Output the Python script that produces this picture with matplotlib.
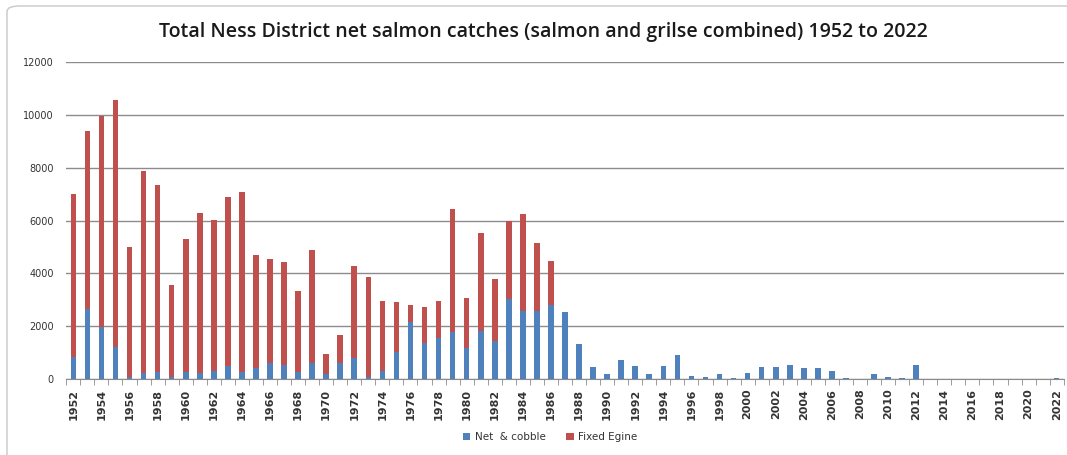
import numpy as np
import matplotlib.pyplot as plt
from matplotlib.patches import FancyBboxPatch

years = list(range(1952, 2023))

# total catch per season (net & cobble + fixed engine)
totals = [7020, 9400, 9970, 10570, 4980, 7880, 7360, 3550, 5290, 6290,
          6010, 6880, 7070, 4700, 4560, 4440, 3340, 4890, 930, 1660,
          4270, 3870, 2950, 2900, 2820, 2710, 2970, 6420, 3050, 5520,
          3780, 5970, 6240, 5150, 4450, 2520, 1320, 440, 190, 710,
          480, 190, 480, 890, 115, 90, 180, 40, 240, 445,
          445, 520, 435, 435, 305, 50, 10, 190, 75, 40,
          540, 0, 0, 0, 0, 0, 0, 0, 0, 0,
          40]

net_cobble = [820, 2660, 1980, 1200, 80, 240, 280, 60, 250, 240,
              290, 480, 280, 430, 590, 530, 265, 590, 190, 590,
              780, 60, 315, 1010, 2170, 1370, 1550, 1780, 1160, 1810,
              1450, 3010, 2580, 2580, 2820, 2520, 1320, 440, 190, 710,
              480, 190, 480, 890, 115, 90, 180, 40, 240, 445,
              445, 520, 435, 435, 305, 50, 10, 190, 75, 40,
              540, 0, 0, 0, 0, 0, 0, 0, 0, 0,
              40]

fixed_engine = [t - n for t, n in zip(totals, net_cobble)]

blue = '#4F81BD'
red = '#C0504D'

fig = plt.figure(figsize=(10.67, 4.55), dpi=100)
fig.patch.set_facecolor('white')

# chart frame
frame = FancyBboxPatch((7 / 1067, -0.05), 1.2, 1 - 6 / 455 + 0.05,
                       boxstyle='round,pad=0,rounding_size=0.012',
                       transform=fig.transFigure, fill=False,
                       edgecolor='#c8c8c8', linewidth=1.0, clip_on=False)
fig.patches.append(frame)

ax = fig.add_axes([66.3 / 1067, 1 - 379 / 455, (1063.7 - 66.3) / 1067, (379 - 62) / 455])

x = np.arange(len(years))
ax.bar(x, net_cobble, width=0.4, color=blue, label='Net  & cobble', zorder=3)
ax.bar(x, fixed_engine, width=0.4, bottom=net_cobble, color=red,
       label='Fixed Egine', zorder=3)

ax.set_xlim(-0.5, len(years) - 0.5)
ax.set_ylim(0, 12000)
ax.set_yticks(range(0, 12001, 2000))
ax.yaxis.grid(True, color='#8c8c8c', linewidth=1.0, zorder=0)
ax.tick_params(axis='y', length=0, labelsize=7, labelcolor='#333333', pad=9)

ax.set_xticks(x[::2])
ax.set_xticklabels([str(y) for y in years[::2]], rotation=90, fontsize=8,
                   color='#333333', fontweight='bold')
ax.set_xticks(np.arange(-0.5, len(years), 1), minor=True)
ax.tick_params(axis='x', which='major', length=0, pad=7)
ax.tick_params(axis='x', which='minor', length=4, color='#8c8c8c')

for side in ['top', 'right', 'left']:
    ax.spines[side].set_visible(False)
ax.spines['bottom'].set_color('#8c8c8c')

fig.text(543 / 1067, 1 - 32 / 455,
         'Total Ness District net salmon catches (salmon and grilse combined) 1952 to 2022',
         ha='center', va='center', fontsize=14, fontweight='semibold',
         family='Open Sans', color='#1a1a1a')

fig.legend(loc='center', bbox_to_anchor=(550 / 1067, 1 - 437 / 455), ncol=2,
           frameon=False, fontsize=7.5, handlelength=0.7, handleheight=0.7,
           handletextpad=0.4, columnspacing=2.0, labelcolor='#333333')

fig.savefig('out.png', dpi=100)
